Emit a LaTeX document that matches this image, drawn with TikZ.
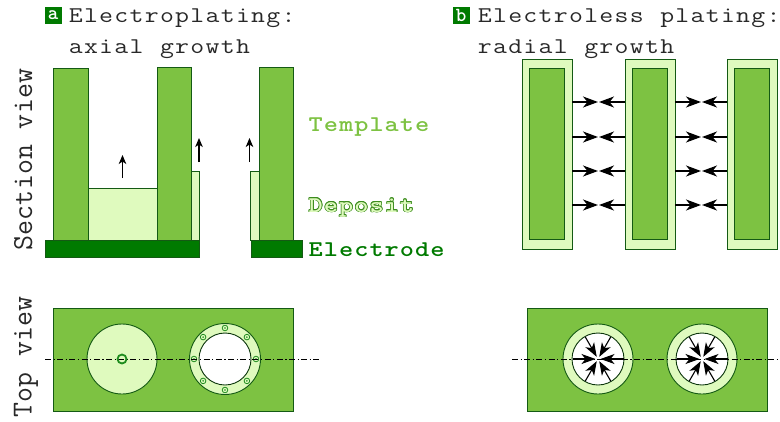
\documentclass[tikz,border=0pt]{standalone}
\usepackage{fontspec}
\usepackage{graphicx}
\usetikzlibrary{arrows.meta}
\definecolor{tmpl}{RGB}{125,194,66}
\definecolor{depo}{RGB}{223,250,190}
\definecolor{elec}{RGB}{0,122,0}
\definecolor{edgec}{RGB}{20,90,20}
\definecolor{markc}{RGB}{30,140,30}
\definecolor{deplbl}{RGB}{60,140,30}
\definecolor{txt}{RGB}{40,40,40}
\makeatletter
\newcommand\spacedtxt[2][1.2]{\@tfor\chr:=#2\do{\makebox[15.2pt][c]{\scalebox{#1}[1]{\chr}}}}
\makeatother
\tikzset{
  tmplbox/.style={fill=tmpl, draw=edgec, line width=0.9pt},
  depbox/.style={fill=depo, draw=edgec, line width=0.9pt},
  elecbox/.style={fill=elec, draw=edgec, line width=0.9pt},
  holebox/.style={fill=white, draw=edgec!60!black, line width=0.9pt},
  bigtxt/.style={font=\ttfamily\fontsize{22.5}{27}\selectfont, inner sep=0pt, text=txt},
  sidetxt/.style={font=\ttfamily\fontsize{29}{32}\selectfont, inner sep=0pt, text=txt},
  boldtxt/.style={font=\ttfamily\bfseries\fontsize{22.5}{27}\selectfont, inner sep=0pt},
  tag/.style={fill=elec, minimum size=17pt, inner sep=0pt, text=white,
              font=\ttfamily\bfseries\fontsize{20}{20}\selectfont},
  growarrow/.style={line width=1.2pt, -{Stealth[length=9pt,width=7.5pt,inset=2.5pt]}},
  radarrow/.style={line width=1.5pt, -{Stealth[length=15pt,width=11pt,inset=4.5pt]}},
  inarrow/.style={line width=1.1pt, -{Stealth[length=14pt,width=10pt,inset=4pt]}},
  axisline/.style={line width=0.8pt, dash pattern=on 6pt off 2.5pt on 1.2pt off 2.5pt},
  marker/.style={draw=markc, line width=0.8pt, fill=depo},
}
\begin{document}
\begin{tikzpicture}[x=1pt,y=-1pt]
\path[use as bounding box] (0,0) rectangle (780,421);

% ---------- titles ----------
\node[tag] (taga) at (53,15.5) {a};
\node[bigtxt, anchor=base west] (ta1) at (68,22) {\spacedtxt{Electroplating:}};
\node[bigtxt, anchor=base west] (ta2) at (68,53) {\spacedtxt{axial~growth}};
\node[tag] (tagb) at (461,15) {b};
\node[bigtxt, anchor=base west] (tb1) at (477,22) {\spacedtxt{Electroless~plating:}};
\node[bigtxt, anchor=base west] (tb2) at (477,53) {\spacedtxt{radial~growth}};

% ---------- side labels ----------
\node[sidetxt, anchor=base west, rotate=90] (sv) at (32,251) {\spacedtxt[1]{Section~view}};
\node[sidetxt, anchor=base west, rotate=90] (tv) at (31.5,418) {\spacedtxt[1]{Top~view}};

% ---------- section a ----------
\draw[depbox] (88,188) rectangle (157,240);
\draw[depbox] (191,171) rectangle (199,240);
\draw[depbox] (250,171) rectangle (259,240);
\draw[tmplbox] (53,68) rectangle (88,240);
\draw[tmplbox] (157,67) rectangle (191,240);
\draw[tmplbox] (259,67) rectangle (293,240);
\draw[elecbox] (45,240) rectangle (199,257);
\draw[elecbox] (251,240) rectangle (302,257);
\coordinate (a1s) at (122.5,178); \coordinate (a1e) at (122.5,155);
\coordinate (a2s) at (199,162);   \coordinate (a2e) at (199,138);
\coordinate (a3s) at (249.5,162); \coordinate (a3e) at (249.5,138);
\draw[growarrow] (a1s) -- (a1e);
\draw[growarrow] (a2s) -- (a2e);
\draw[growarrow] (a3s) -- (a3e);

% ---------- legend ----------
\node[boldtxt, text=tmpl, anchor=base west] (ltmpl) at (308,131) {\spacedtxt{Template}};
\foreach \ang in {0,30,...,330}
  \node[boldtxt, text=deplbl, anchor=base west, shift={(\ang:0.7pt)}] at (308,212) {\spacedtxt{Deposit}};
\node[boldtxt, text=depo, anchor=base west] (ldep) at (308,212) {\spacedtxt{Deposit}};
\node[boldtxt, text=elec, anchor=base west] (lelec) at (308,256) {\spacedtxt{Electrode}};

% ---------- top view a ----------
\draw[tmplbox] (53,308) rectangle (293,411);
\draw[depbox] (122,359) circle[radius=35pt];
\draw[depbox] (225,359) circle[radius=35.5pt];
\draw[holebox] (225,359) circle[radius=26pt];
\foreach \ang in {0,45,...,315} {
  \draw[marker] (225,359) ++(\ang:31pt) circle[radius=2.8pt];
  \fill[markc] (225,359) ++(\ang:31pt) circle[radius=0.9pt];
}
\coordinate (axa1) at (45,359); \coordinate (axa2) at (320,359);
\draw[axisline] (axa1) -- (axa2);
\draw[draw=markc, line width=1.8pt] (122,359) circle[radius=4.5pt];

% ---------- section b ----------
\foreach \xo in {522,625,727} {
  \draw[depbox] (\xo,59) rectangle (\xo+50,249);
  \draw[tmplbox] (\xo+7.5,68) rectangle (\xo+42.5,239);
}
\foreach \yy in {102,137,171,205} {
  \draw[radarrow] (572,\yy) -- (598,\yy);
  \draw[radarrow] (625,\yy) -- (599,\yy);
  \draw[radarrow] (675,\yy) -- (701,\yy);
  \draw[radarrow] (727,\yy) -- (702,\yy);
}

% ---------- top view b ----------
\draw[tmplbox] (527,308) rectangle (767,411);
\foreach \cx in {598,702} {
  \draw[depbox] (\cx,359) circle[radius=35pt];
  \draw[holebox] (\cx,359) circle[radius=26pt];
}
\coordinate (axb1) at (512,359); \coordinate (axb2) at (780,359);
\draw[axisline] (axb1) -- (axb2);
\foreach \cx in {598,702} {
  \foreach \ang in {0,60,...,300}
    \draw[inarrow] (\cx,359) ++(\ang:25.5pt) -- ++(\ang+180:23pt);
}
\end{tikzpicture}
\end{document}
